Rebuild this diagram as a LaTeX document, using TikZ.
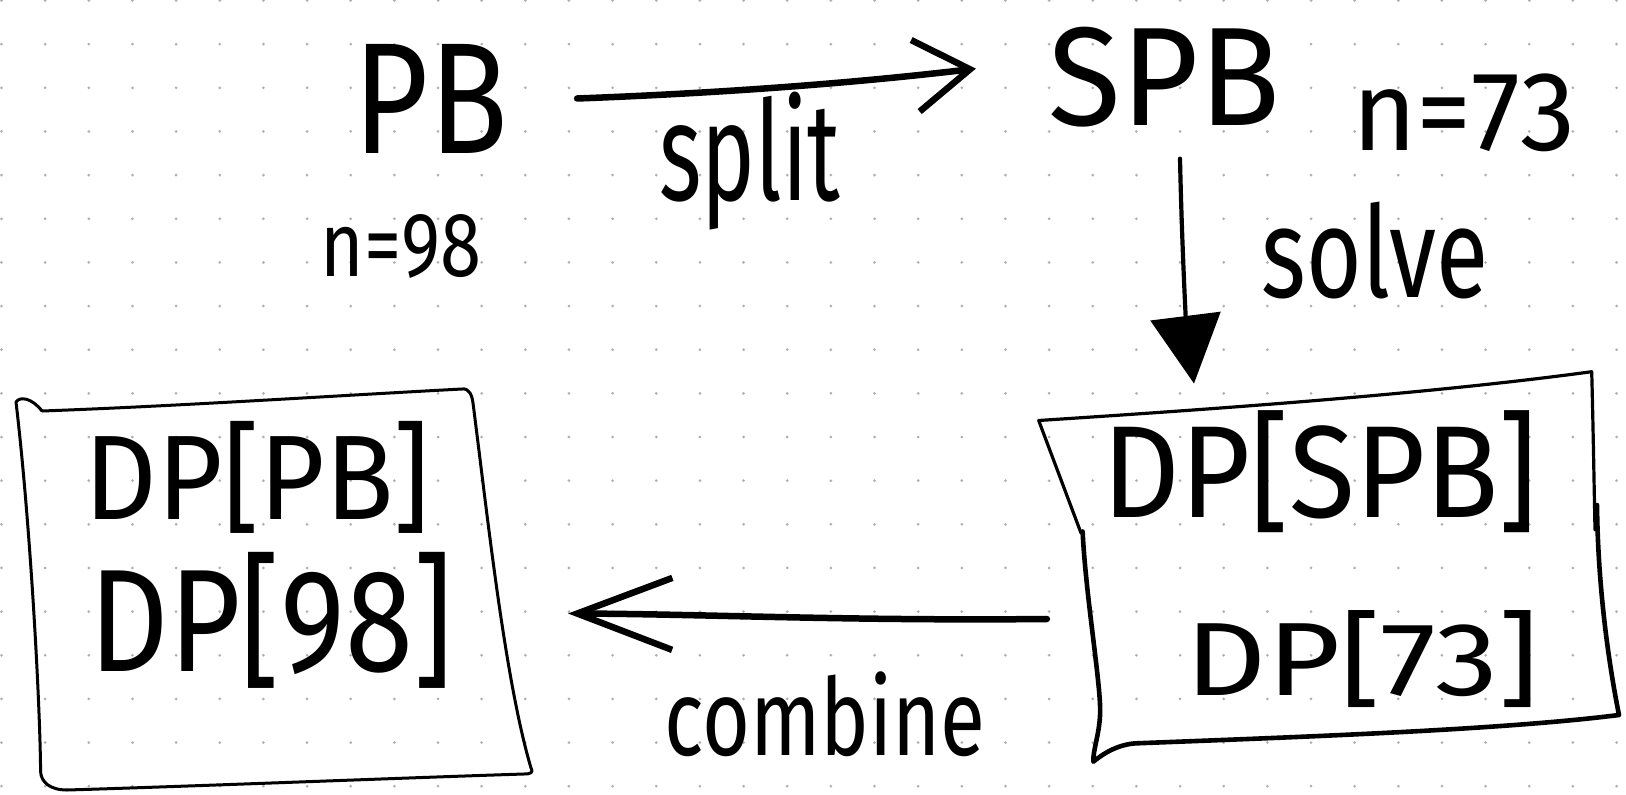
\documentclass[tikz,border=0pt]{standalone}
\usepackage{fontspec}
\setmainfont{Fira Sans}
\usepackage{graphicx}
\usetikzlibrary{arrows.meta}
\definecolor{dotc}{HTML}{B0B0B0}
\newcommand\hwtext[3]{\resizebox*{#1pt}{#2pt}{#3}}
\begin{document}
\begin{tikzpicture}[x=1pt,y=1pt,line cap=round,line join=round,
  lbl/.style={inner sep=0pt,outer sep=0pt},
  boxline/.style={line width=3pt},
  boxthick/.style={line width=4.6pt},
  arr/.style={line width=6.5pt}]
\useasboundingbox (0,0) rectangle (1626,-795);
\fill[white] (0,0) rectangle (1626,-795);
\foreach \i in {0,...,37}{\foreach \j in {0,...,18}{\fill[dotc] (1.5+43.65*\i,-0.5-43.65*\j) circle (1.5);}}

% texts
\node[lbl] (PB) at (431,-98.5) {\hwtext{154}{109}{PB}};
\node[lbl] (n98) at (401,-246) {\hwtext{160}{64}{n=98}};
\node[lbl] (split) at (750,-161) {\hwtext{181}{138}{split}};
\node[lbl] (SPB) at (1164.5,-77) {\hwtext{231}{100}{SPB}};
\node[lbl] (n73) at (1463.5,-113) {\hwtext{223}{78}{n=73}};
\node[lbl] (solve) at (1375,-250.5) {\hwtext{226}{97}{solve}};
\node[lbl] (combine) at (825,-714.5) {\hwtext{321}{85}{combine}};
\node[lbl] (DPSPB) at (1320,-472) {\hwtext{435}{122}{DP[SPB]}};
\node[lbl] (DP73) at (1362.5,-659.5) {\hwtext{353}{97}{DP[73]}};
\node[lbl] (DPPB) at (257.5,-477) {\hwtext{345}{112}{DP[PB]}};
\node[lbl] (DP98) at (271.5,-620) {\hwtext{363}{136}{DP[98]}};

% left box
\draw[boxline] (42,-411) .. controls (180,-406) and (330,-396) .. (462,-389)
  .. controls (469,-388) and (472,-395) .. (473,-403)
  .. controls (488,-520) and (505,-680) .. (531,-768)
  .. controls (534,-773) and (530,-774) .. (524,-774)
  .. controls (400,-778) and (200,-786) .. (67,-790)
  .. controls (50,-790) and (41,-782) .. (40.6,-771.6)
  .. controls (40,-700) and (30,-520) .. (16,-402)
  .. controls (20,-396) and (32,-398) .. (42,-411);

% right box
\draw[line width=3.2pt] (1081,-533) -- (1038.7,-420.5)
  .. controls (1200,-410) and (1420,-395) .. (1591.7,-371.7)
  .. controls (1593,-420) and (1594,-480) .. (1595,-530);
\draw[boxthick] (1082.6,-531.5) .. controls (1086,-600) and (1102,-690) .. (1100,-716)
  .. controls (1099,-735) and (1093,-750) .. (1093.3,-761.7)
  .. controls (1105,-752) and (1120,-744) .. (1136.7,-743.3)
  .. controls (1300,-737) and (1500,-730) .. (1619,-715)
  .. controls (1612,-680) and (1598,-600) .. (1597,-505);

% arrows
\draw[arr,-{Straight Barb[length=55pt,width=72pt]}]
  ([xshift=69pt]PB.east) .. controls (750,-92) and (880,-80) .. ([xshift=-73pt,yshift=8.4pt]SPB.west);
\draw[line width=4.2pt,-{Triangle[length=68pt,width=70pt]}]
  ([xshift=15.5pt,yshift=-31.6pt]SPB.south) .. controls (1182,-250) and (1186,-320) .. ([xshift=-126pt,yshift=27.4pt]DPSPB.north);
\draw[arr,-{Straight Barb[length=95pt,width=72pt]}]
  ([xshift=-139pt,yshift=40.5pt]DP73.west) .. controls (850,-621) and (700,-614) .. ([xshift=115pt,yshift=6.5pt]DP98.east);
\end{tikzpicture}
\end{document}
